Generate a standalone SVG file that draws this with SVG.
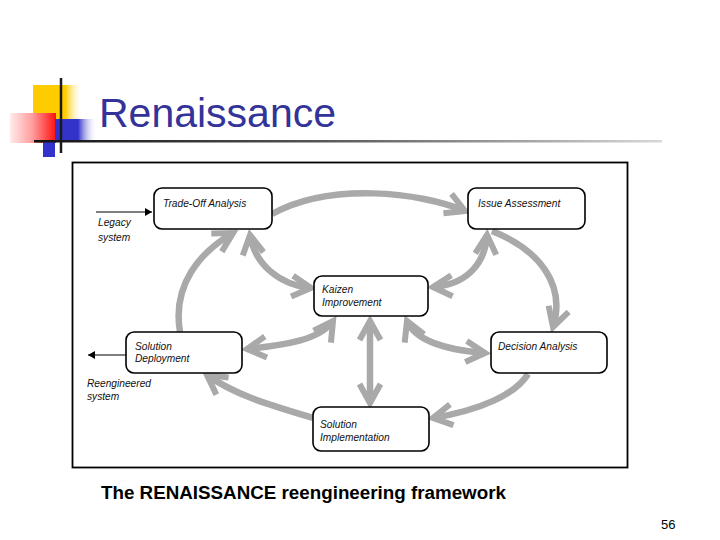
<svg xmlns="http://www.w3.org/2000/svg" width="720" height="540" viewBox="0 0 720 540">
<style>
.node rect{fill:#fff;stroke:#000;stroke-width:1.6}
.lbl{font-family:"Liberation Sans",Arial,sans-serif;font-style:italic;font-size:10.2px;fill:#111}
.flow{fill:none;stroke:#a9a9a9;stroke-width:6.5;stroke-linecap:butt}
.io{fill:none;stroke:#000;stroke-width:1.2}
</style>
<defs>
<marker id="ah" markerUnits="userSpaceOnUse" viewBox="-26 -16 36 32" markerWidth="36" markerHeight="32" refX="0" refY="0" orient="auto-start-reverse" overflow="visible">
<path d="M-19,-10.5 L0,0 L-19,10.5" fill="none" stroke="#a9a9a9" stroke-width="6" stroke-linejoin="miter"/>
</marker>
<marker id="bk" markerUnits="userSpaceOnUse" viewBox="-8 -5 10 10" markerWidth="10" markerHeight="10" refX="0" refY="0" orient="auto" overflow="visible">
<path d="M-7,-4 L0,0 L-7,4 Z" fill="#000"/>
</marker>
<linearGradient id="yg" x1="0" y1="0" x2="1" y2="0">
<stop offset="0" stop-color="#ffcc00"/><stop offset="0.65" stop-color="#ffcc00"/><stop offset="1" stop-color="#fff" stop-opacity="0"/>
</linearGradient>
<linearGradient id="rg" x1="0" y1="0" x2="1" y2="0">
<stop offset="0" stop-color="#ffecec"/><stop offset="0.5" stop-color="#ff9a9a"/><stop offset="1" stop-color="#ff1010"/>
</linearGradient>
<linearGradient id="bg" x1="0" y1="0" x2="1" y2="0">
<stop offset="0" stop-color="#3333cc"/><stop offset="0.55" stop-color="#3333cc"/><stop offset="1" stop-color="#fff" stop-opacity="0"/>
</linearGradient>
<linearGradient id="lg" x1="0" y1="0" x2="1" y2="0">
<stop offset="0" stop-color="#111"/><stop offset="0.45" stop-color="#555"/><stop offset="1" stop-color="#d8d8d8"/>
</linearGradient>
</defs>
<rect width="720" height="540" fill="#fff"/>
<!-- title decoration -->
<rect x="33" y="85" width="50" height="36" fill="url(#yg)"/>
<rect x="10" y="113" width="46" height="30" fill="url(#rg)"/>
<rect x="55" y="119" width="42" height="23" fill="url(#bg)"/>
<rect x="43" y="142" width="12" height="15" fill="#3333cc"/>
<line x1="61" y1="78" x2="61" y2="153" stroke="#1a1a1a" stroke-width="2.5"/>
<rect x="34" y="140" width="628" height="2.5" fill="url(#lg)"/>
<text x="99" y="127" font-family="Liberation Sans,Arial,sans-serif" font-size="41" fill="#333399">Renaissance</text>
<!-- frame -->
<rect x="72.5" y="162.5" width="555" height="305" fill="none" stroke="#000" stroke-width="1.8"/>
<!-- connectors -->
<g id="connectors">
<path class="flow" marker-end="url(#ah)" d="M272,214 C330,182 420,192 465,211"/>
<path class="flow" marker-end="url(#ah)" d="M492,231 C540,250 566,285 553,327"/>
<path class="flow" marker-end="url(#ah)" d="M528,374 C515,395 480,410 433,418"/>
<path class="flow" marker-end="url(#ah)" d="M313,418 C270,405 235,395 207,375"/>
<path class="flow" marker-end="url(#ah)" d="M180,332 C172,285 200,252 233,233"/>
<path class="flow" marker-start="url(#ah)" marker-end="url(#ah)" d="M250,235 C255,265 280,285 311,288"/>
<path class="flow" marker-start="url(#ah)" marker-end="url(#ah)" d="M433,287 C465,285 485,265 487,235"/>
<path class="flow" marker-start="url(#ah)" marker-end="url(#ah)" d="M407,321 C415,340 445,350 485,353"/>
<path class="flow" marker-start="url(#ah)" marker-end="url(#ah)" d="M333,321 C320,340 285,345 247,349"/>
<path class="flow" marker-start="url(#ah)" marker-end="url(#ah)" d="M370,321 L370,403"/>
<line class="io" x1="96" y1="212" x2="152" y2="212" marker-end="url(#bk)"/>
<line class="io" x1="126" y1="355" x2="88" y2="355" marker-end="url(#bk)"/>
</g>
<g id="n-tradeoff" class="node"><rect x="154" y="188" width="118" height="41" rx="8"/><text class="lbl" x="163" y="207">Trade-Off Analysis</text></g>
<g id="n-issue" class="node"><rect x="468" y="188" width="117" height="41" rx="8"/><text class="lbl" x="478" y="207">Issue Assessment</text></g>
<g id="n-kaizen" class="node"><rect x="314" y="276" width="114" height="40" rx="8"/><text class="lbl" x="322" y="293">Kaizen</text><text class="lbl" x="322" y="306">Improvement</text></g>
<g id="n-deploy" class="node"><rect x="126" y="332" width="116" height="41" rx="8"/><text class="lbl" x="135" y="350">Solution</text><text class="lbl" x="135" y="362">Deployment</text></g>
<g id="n-decision" class="node"><rect x="491" y="332" width="116" height="41" rx="8"/><text class="lbl" x="498" y="350">Decision Analysis</text></g>
<g id="n-impl" class="node"><rect x="313" y="407" width="116" height="44" rx="8"/><text class="lbl" x="320" y="428">Solution</text><text class="lbl" x="320" y="441">Implementation</text></g>
<g id="io-labels">
<text class="lbl" x="98" y="226">Legacy</text><text class="lbl" x="98" y="241">system</text>
<text class="lbl" x="87" y="387">Reengineered</text><text class="lbl" x="87" y="400">system</text>
</g>
<text x="101" y="499" font-family="Liberation Sans,Arial,sans-serif" font-weight="bold" font-size="18.8" fill="#000">The RENAISSANCE reengineering framework</text>
<text x="661" y="529" font-family="Liberation Sans,Arial,sans-serif" font-size="13" fill="#000">56</text>
</svg>
